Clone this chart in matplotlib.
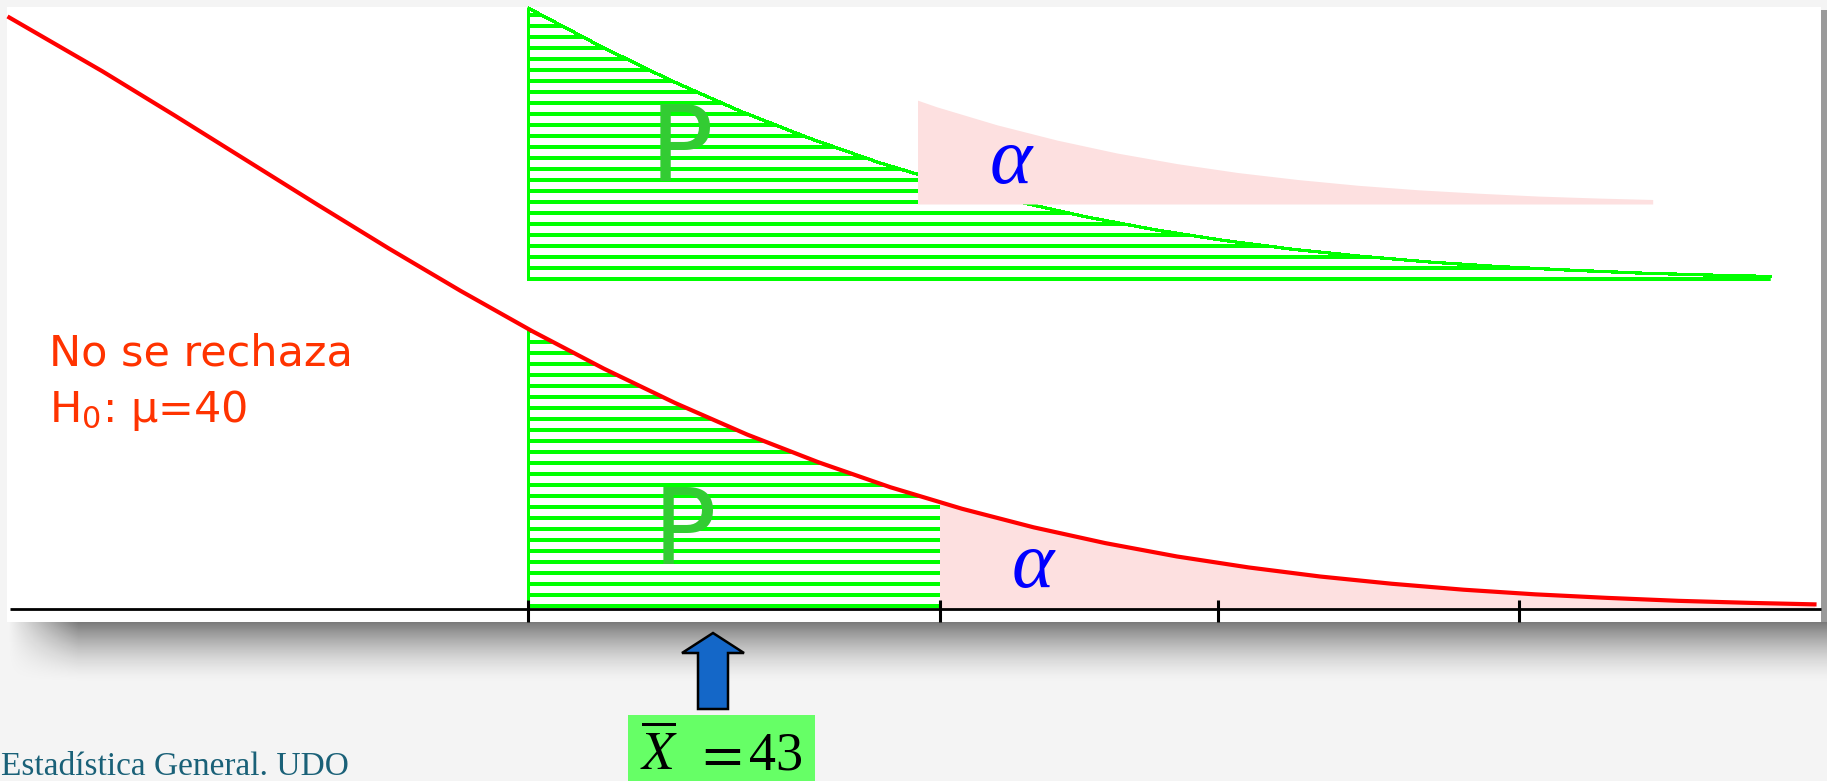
import numpy as np
import matplotlib
matplotlib.use("Agg")
from matplotlib import pyplot as plt
from matplotlib.patches import Rectangle, FancyArrow

# right tail of the normal curve (z value, density)
z = np.array([0.67, 0.8, 0.9, 1.0, 1.1, 1.2, 1.3, 1.4, 1.5, 1.6, 1.7, 1.8, 1.9,
              2.0, 2.1, 2.2, 2.3, 2.4, 2.5, 2.6, 2.7, 2.8, 2.9, 3.0, 3.1, 3.19])
dens = np.array([0.3187, 0.2897, 0.2661, 0.2420, 0.2179, 0.1942, 0.1714, 0.1497,
                 0.1295, 0.1109, 0.0940, 0.0790, 0.0656, 0.0540, 0.0440, 0.0355,
                 0.0283, 0.0224, 0.0175, 0.0136, 0.0104, 0.0079, 0.0060, 0.0044,
                 0.0033, 0.0025])

p_start = 1.394      # observed mean -> start of the P area
alpha_start = 1.969  # critical value -> start of the alpha area
tick_z = [1.394, 1.969, 2.357, 2.778]

h0_text = ["No se rechaza", "H$_0$: μ=40"]
xbar_parts = [r"$\overline{X}$", "$=$", "43"]
footer = "Estadística General. UDO"

RED = "#ff0000"
GREEN = "#00ff00"
PINK = "#fde0e0"
P_GREEN = "#33cc33"
ORANGE = "#ff3300"
BLUE = "#0000ff"

W, H = 1827, 781
ZPX = 0.001396      # z per pixel
DPX = 1 / 1856.0    # density per pixel

fig = plt.figure(figsize=(W / 100, H / 100), dpi=100)
fig.patch.set_facecolor("#f4f4f4")

# background axes in pixel units: slide panel, shadow, labels below
bg = fig.add_axes([0, 0, 1, 1], zorder=0)
bg.set_xlim(0, W)
bg.set_ylim(H, 0)
bg.axis("off")

# soft shadow under the panel
sh_h, sh_w = 60, W - 8
t = np.linspace(0, 1, sh_h)
fade_x = np.clip(np.arange(sh_w) / 70.0, 0, 1)
shadow = np.zeros((sh_h, sh_w, 4))
shadow[..., 3] = np.outer(0.5 * (1 - t) ** 1.6, fade_x)
bg.imshow(shadow, extent=(8, W, 684, 622), aspect="auto",
          interpolation="bilinear", zorder=1)
bg.add_patch(Rectangle((1821, 10), 6, 612, color="#9a9a9a", lw=0, zorder=1))
bg.add_patch(Rectangle((7, 7), 1814, 615, color="white", lw=0, zorder=2))

# arrow and the sample mean box
bg.add_patch(FancyArrow(713, 709, 0, -76, width=30, head_width=62,
                        head_length=20, length_includes_head=True,
                        facecolor="#1467c8", edgecolor="black", lw=1.8,
                        zorder=3))
bg.add_patch(Rectangle((628, 715), 187, 70, color="#66ff66", lw=0, zorder=3))
bg.text(659, 770, xbar_parts[0], fontsize=38, math_fontfamily="stix",
        ha="center", va="baseline", color="black", zorder=4)
bg.text(718, 770, xbar_parts[1], fontsize=42, math_fontfamily="stix",
        ha="center", va="baseline", color="black", zorder=4)
bg.text(776, 770, xbar_parts[2], fontsize=39, family="Liberation Serif",
        ha="center", va="baseline", color="black", zorder=4)
bg.text(1, 775, footer, fontsize=24, family="Liberation Serif",
        color="#1a6178", ha="left", va="baseline", zorder=4)

# chart axes in z / density units, laid over the panel
ax = fig.add_axes([0, 0, 1, 1], zorder=1)
ax.patch.set_visible(False)
ax.axis("off")
ax.set_xlim(0.657, 0.657 + W * ZPX)
ax.set_ylim(-172 * DPX, 609 * DPX)


def clip_x(artist, x0, x1, y0, y1):
    box = Rectangle((x0, y0), x1 - x0, y1 - y0, transform=ax.transData)
    artist.set_clip_path(box)


def hatch(xs, ys, base, x0, x1, first, zo):
    poly = ax.fill_between(xs, base, ys, facecolor="none", edgecolor="none")
    path = poly.get_paths()[0]
    levels = base + np.arange(first, (ys.max() - base) / DPX, 11) * DPX
    hl = ax.hlines(levels, x0, x1, colors=GREEN, lw=1.6, zorder=zo,
                   antialiased=False)
    hl.set_clip_path(path, ax.transData)
    vl = ax.vlines(x0, base, ys.max(), colors=GREEN, lw=2.0, zorder=zo,
                   antialiased=False)
    vl.set_clip_path(path, ax.transData)


# lower picture: alpha area (pink) and P area (green hatch)
pk = ax.fill_between(z, 0, dens, color=PINK, lw=0, zorder=2)
clip_x(pk, alpha_start, 4, -1, 1)
hatch(z, dens, 0, p_start, alpha_start, 3, 3)

# upper copy of the same areas (slide shows it shifted up)
up_base = 328 * DPX
z_up = p_start + (z - p_start) * 0.966
d_up = up_base + dens * 0.975
hatch(z_up, d_up, up_base, p_start, z_up[-1], 2, 3)
edge, = ax.plot(z_up, d_up, color=GREEN, lw=1.6, zorder=3, antialiased=False)
clip_x(edge, p_start, 4, -1, 1)

pk_base = 405 * DPX
pk_left = 1.9385
z_pk = pk_left + (z - alpha_start) * 0.84
pk2 = ax.fill_between(z_pk, pk_base, pk_base + dens * 0.97, color=PINK,
                      lw=0, zorder=4)
clip_x(pk2, pk_left, 4, -1, 1)

# curve and axis
ax.plot(z, dens, color=RED, lw=3.0, zorder=5)
ax.hlines(0, 0.657 + 10 * ZPX, 0.657 + 1821 * ZPX, colors="black",
          lw=2.0, zorder=6)
ax.vlines(tick_z, -13 * DPX, 9 * DPX, colors="black", lw=2.2, zorder=6)

# labels, placed in pixel units but drawn above the chart
tf = bg.transData
ax.text(49, 365, h0_text[0], transform=tf, fontsize=31, color=ORANGE,
        ha="left", va="baseline", zorder=7)
ax.text(49, 422, h0_text[1], transform=tf, fontsize=31, color=ORANGE,
        math_fontfamily="dejavusans", ha="left", va="baseline", zorder=7)
for px, base in [(681, 181), (684, 564)]:
    ax.text(px, base, "P", transform=tf, fontsize=76, color=P_GREEN,
            ha="center", va="baseline", zorder=7)
for px, base in [(1011, 183), (1033, 587)]:
    ax.text(px, base, "α", transform=tf, fontsize=58, color=BLUE,
            family="Liberation Serif", style="italic",
            ha="center", va="baseline", zorder=7)

fig.savefig("out.png", dpi=100, facecolor=fig.get_facecolor())
